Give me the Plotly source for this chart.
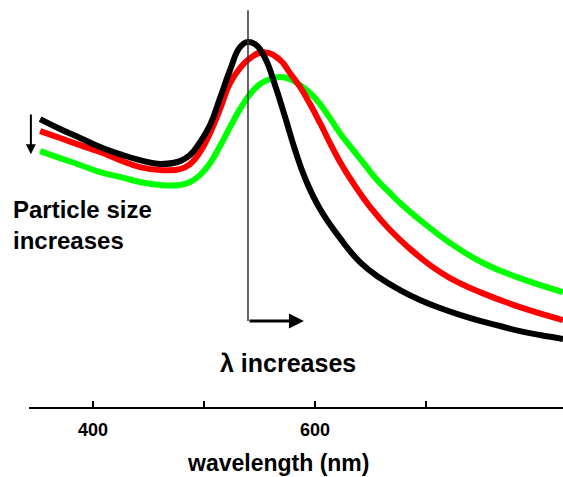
import plotly.graph_objects as go

# Absorbance spectra (arbitrary units) for three particle sizes
wl_small = [352.3, 370.3, 388.3, 406.3, 424.3, 442.3, 460.4, 478.4, 487.4, 496.4, 505.4, 514.4,
            523.4, 532.4, 539.6, 546.8, 555.0, 564.0, 573.0, 582.0, 591.0, 604.5, 622.5, 640.5,
            658.6, 676.6, 694.6, 712.6, 730.6, 748.6, 766.7, 784.7, 802.7, 823.4]
abs_small = [0.960, 0.927, 0.897, 0.867, 0.843, 0.823, 0.810, 0.820, 0.840, 0.883, 0.940, 1.030,
             1.123, 1.200, 1.217, 1.207, 1.163, 1.073, 0.967, 0.857, 0.763, 0.660, 0.563, 0.483,
             0.430, 0.390, 0.357, 0.330, 0.307, 0.287, 0.270, 0.253, 0.240, 0.227]

wl_medium = [352.3, 370.3, 388.3, 406.3, 424.3, 442.3, 460.4, 478.4, 487.4, 496.4, 505.4, 514.4,
             523.4, 532.4, 541.4, 554.1, 568.5, 577.5, 586.5, 595.5, 604.5, 613.5, 622.5, 634.2,
             649.5, 667.6, 685.6, 703.6, 721.6, 748.6, 784.7, 823.4]
abs_medium = [0.920, 0.897, 0.873, 0.850, 0.823, 0.800, 0.790, 0.793, 0.810, 0.850, 0.913, 0.993,
              1.080, 1.130, 1.163, 1.183, 1.157, 1.113, 1.067, 1.010, 0.947, 0.880, 0.817, 0.747,
              0.667, 0.590, 0.527, 0.473, 0.430, 0.383, 0.333, 0.290]

wl_large = [352.3, 370.3, 388.3, 406.3, 424.3, 442.3, 460.4, 478.4, 487.4, 496.4, 505.4, 514.4,
            523.4, 532.4, 541.4, 550.5, 559.5, 568.5, 577.5, 586.5, 595.5, 604.5, 613.5, 622.5,
            634.2, 645.0, 655.9, 667.6, 676.6, 694.6, 721.6, 751.4, 782.0, 823.4]
abs_large = [0.853, 0.830, 0.807, 0.783, 0.767, 0.750, 0.740, 0.740, 0.750, 0.773, 0.813, 0.870,
             0.933, 0.993, 1.043, 1.077, 1.093, 1.100, 1.093, 1.073, 1.047, 1.010, 0.963, 0.913,
             0.857, 0.807, 0.757, 0.713, 0.680, 0.623, 0.547, 0.480, 0.433, 0.383]

tick_vals = [400, 500, 600, 700]
tick_text = ["<b>400</b>", "", "<b>600</b>", ""]

peak_wl = 539.6
FONT = "Liberation Sans, Arial, sans-serif"

fig = go.Figure()
for wl, ab, col in [(wl_large, abs_large, "#00ff00"),
                    (wl_medium, abs_medium, "#ff0000"),
                    (wl_small, abs_small, "#000000")]:
    fig.add_trace(go.Scatter(x=wl, y=ab, mode="lines",
                             line=dict(color=col, width=6, shape="spline", smoothing=1.3),
                             showlegend=False, hoverinfo="skip"))

# Vertical marker at the peak of the smallest particles
fig.add_shape(type="line", x0=peak_wl, x1=peak_wl, y0=0.287, y1=1.323,
              line=dict(color="#333333", width=1.5))

# Red-shift arrow
fig.add_annotation(x=590, y=0.287, ax=peak_wl, ay=0.287, axref="x", ayref="y",
                   xref="x", yref="y", showarrow=True, arrowhead=2, arrowsize=1,
                   arrowwidth=3, arrowcolor="#000000", text="")
# Downward arrow at left
fig.add_annotation(x=344, y=0.843, ax=344, ay=0.98, axref="x", ayref="y",
                   xref="x", yref="y", showarrow=True, arrowhead=2, arrowsize=1,
                   arrowwidth=2, arrowcolor="#000000", text="")

fig.add_annotation(text="<b>Particle size<br>increases</b>", x=-0.033, y=(407 - 225) / 407,
                   xref="paper", yref="paper", xanchor="left", yanchor="middle",
                   align="left", showarrow=False,
                   font=dict(family=FONT, size=24, color="#000000"))
fig.add_annotation(text="<b>λ increases</b>", x=(288 - 29) / 534, y=(407 - 363) / 407,
                   xref="paper", yref="paper", xanchor="center", yanchor="middle",
                   showarrow=False, font=dict(family=FONT, size=25, color="#000000"))
fig.add_annotation(text="<b>wavelength (nm)</b>", x=(278 - 29) / 534, y=(407 - 463) / 407,
                   xref="paper", yref="paper", xanchor="center", yanchor="middle",
                   showarrow=False, font=dict(family=FONT, size=23, color="#000000"))

fig.update_layout(
    width=563, height=477,
    margin=dict(l=29, r=0, t=0, b=70),
    paper_bgcolor="white", plot_bgcolor="white",
    xaxis=dict(range=[342.3, 823.4], showline=True, linecolor="#000000", linewidth=2,
               ticks="inside", ticklen=6, tickwidth=1.5, tickcolor="#000000",
               tickvals=tick_vals, ticktext=tick_text, showgrid=False, zeroline=False,
               tickfont=dict(family=FONT, size=18, color="#000000"),
               ticklabelstandoff=5),
    yaxis=dict(range=[0, 1.357], visible=False, showgrid=False, zeroline=False),
)

fig.write_html("out.html")
